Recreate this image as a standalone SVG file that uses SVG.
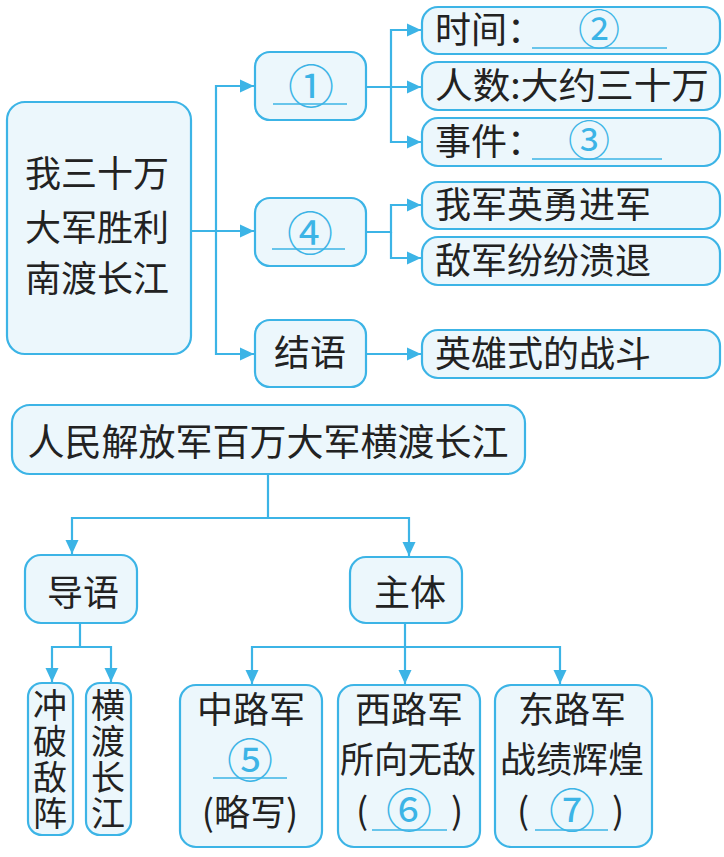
<svg xmlns="http://www.w3.org/2000/svg" width="724" height="857" viewBox="0 0 724 857">
<style>
.box{fill:#ecf7fc;stroke:#3cb4e6;stroke-width:2.2}
.t{font-family:"Noto Sans CJK SC","Noto Sans CJK TC",sans-serif;font-size:36px;fill:#222}
.v{font-size:34px;writing-mode:vertical-rl;letter-spacing:2px}
.m{text-anchor:middle}
.c{font-family:"Noto Sans CJK SC",sans-serif;font-size:46px;fill:#3cb4e6;text-anchor:middle}
.u{stroke:#3cb4e6;stroke-width:1.6;fill:none}
.k{fill:none;stroke:#3cb4e6;stroke-width:2.2}
</style>
<defs>
<marker id="a" markerUnits="userSpaceOnUse" markerWidth="15" markerHeight="15" refX="14" refY="7.5" orient="auto">
<path d="M0,1 L14,7.5 L0,14 z" fill="#3cb4e6"/>
</marker>
</defs>
<rect width="724" height="857" fill="#ffffff"/>

<g id="connectors">
<path class="k" d="M191,231 H254" marker-end="url(#a)"/>
<path class="k" d="M216,231 V86 H254" marker-end="url(#a)"/>
<path class="k" d="M216,231 V354 H254" marker-end="url(#a)"/>
<path class="k" d="M366,87 H421" marker-end="url(#a)"/>
<path class="k" d="M391,87 V30 H421" marker-end="url(#a)"/>
<path class="k" d="M391,87 V142 H421" marker-end="url(#a)"/>
<path class="k" d="M366,232 H391 V205 H421" marker-end="url(#a)"/>
<path class="k" d="M391,232 V258 H421" marker-end="url(#a)"/>
<path class="k" d="M366,354 H421" marker-end="url(#a)"/>
<path class="k" d="M268,474 V518 H72 V554" marker-end="url(#a)"/>
<path class="k" d="M268,518 H409 V556" marker-end="url(#a)"/>
<path class="k" d="M80,623 V647 H52 V682" marker-end="url(#a)"/>
<path class="k" d="M80,647 H111 V682" marker-end="url(#a)"/>
<path class="k" d="M405,623 V684" marker-end="url(#a)"/>
<path class="k" d="M405,647 H252 V684" marker-end="url(#a)"/>
<path class="k" d="M405,647 H560 V684" marker-end="url(#a)"/>
</g>

<g id="root">
<rect class="box" x="7" y="102" width="184" height="252" rx="18"/>
<text class="t m" x="97" y="187">我三十万</text>
<text class="t m" x="97" y="241">大军胜利</text>
<text class="t m" x="97" y="292">南渡长江</text>
</g>

<g id="n1">
<rect class="box" x="255" y="52" width="111" height="68" rx="15"/>
<text class="c" x="311" y="103">①</text>
<line class="u" x1="273" y1="104" x2="347" y2="104"/>
</g>

<g id="n4">
<rect class="box" x="255" y="198" width="111" height="68" rx="15"/>
<text class="c" x="310" y="250">④</text>
<line class="u" x1="272" y1="249" x2="345" y2="249"/>
</g>

<g id="jieyu">
<rect class="box" x="255" y="320" width="111" height="67" rx="15"/>
<text class="t m" x="310" y="366">结语</text>
</g>

<g id="shijian">
<rect class="box" x="422" y="7" width="298" height="47" rx="16"/>
<text class="t" x="435" y="43">时间：</text>
<text class="c" x="599" y="45" style="font-size:42px">②</text>
<line class="u" x1="532" y1="48" x2="667" y2="48"/>
</g>

<g id="renshu">
<rect class="box" x="422" y="62" width="298" height="48" rx="16"/>
<text class="t" x="435" y="99" textLength="274" lengthAdjust="spacingAndGlyphs">人数:大约三十万</text>
</g>

<g id="shijian2">
<rect class="box" x="422" y="118" width="298" height="48" rx="16"/>
<text class="t" x="435" y="155">事件：</text>
<text class="c" x="589" y="156" style="font-size:42px">③</text>
<line class="u" x1="532" y1="159" x2="662" y2="159"/>
</g>

<g id="wojun">
<rect class="box" x="422" y="182" width="298" height="47" rx="16"/>
<text class="t" x="435" y="218">我军英勇进军</text>
</g>

<g id="dijun">
<rect class="box" x="422" y="237" width="298" height="48" rx="16"/>
<text class="t" x="435" y="274">敌军纷纷溃退</text>
</g>

<g id="yingxiong">
<rect class="box" x="422" y="330" width="298" height="48" rx="16"/>
<text class="t" x="435" y="367">英雄式的战斗</text>
</g>

<g id="title">
<rect class="box" x="12" y="405" width="513" height="69" rx="18"/>
<text class="t m" x="268" y="456" style="font-size:37px">人民解放军百万大军横渡长江</text>
</g>

<g id="daoyu">
<rect class="box" x="25" y="555" width="112" height="68" rx="16"/>
<text class="t m" x="83" y="606">导语</text>
</g>

<g id="zhuti">
<rect class="box" x="350" y="557" width="112" height="66" rx="16"/>
<text class="t m" x="410" y="606">主体</text>
</g>

<g id="chongpo">
<rect class="box" x="28" y="683" width="45" height="152" rx="14"/>
<text class="t v" x="50" y="688">冲破敌阵</text>
</g>

<g id="hengdu">
<rect class="box" x="86" y="683" width="45" height="152" rx="14"/>
<text class="t v" x="108" y="688">横渡长江</text>
</g>

<g id="zhonglu">
<rect class="box" x="180" y="685" width="142" height="162" rx="16"/>
<text class="t m" x="251" y="723">中路军</text>
<text class="c" x="250" y="777">⑤</text>
<line class="u" x1="213" y1="778" x2="287" y2="778"/>
<text class="t m" x="250" y="826">(略写)</text>
</g>

<g id="xilu">
<rect class="box" x="338" y="685" width="142" height="162" rx="16"/>
<text class="t m" x="409" y="723">西路军</text>
<text class="t m" x="408" y="773" textLength="136" lengthAdjust="spacingAndGlyphs">所向无敌</text>
<text class="t m" x="362" y="824">(</text>
<text class="c" x="409" y="827">⑥</text>
<text class="t m" x="457" y="824">)</text>
<line class="u" x1="372" y1="830" x2="447" y2="830"/>
</g>

<g id="donglu">
<rect class="box" x="495" y="685" width="157" height="162" rx="16"/>
<text class="t m" x="572" y="723">东路军</text>
<text class="t m" x="572" y="773">战绩辉煌</text>
<text class="t m" x="523" y="824">(</text>
<text class="c" x="572" y="827">⑦</text>
<text class="t m" x="618" y="824">)</text>
<line class="u" x1="535" y1="830" x2="608" y2="830"/>
</g>
</svg>
